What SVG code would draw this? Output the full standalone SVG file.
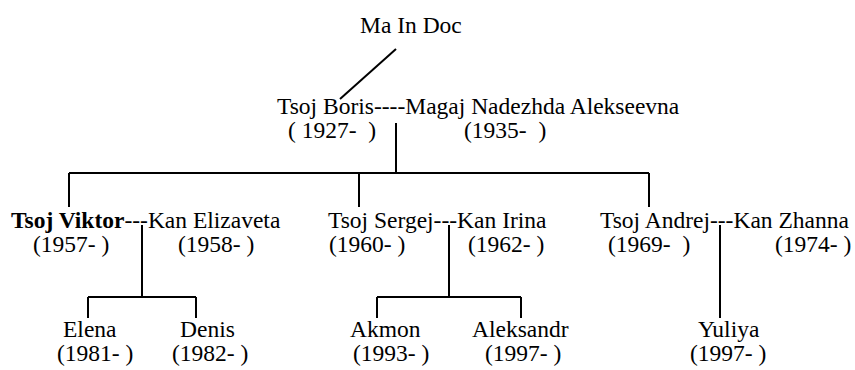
<svg xmlns="http://www.w3.org/2000/svg" width="855" height="370" viewBox="0 0 855 370">
<style>
text{font-family:"Liberation Serif","Times New Roman",serif;font-size:23.5px;fill:#000;white-space:pre}
.b{font-weight:bold}
.c{stroke:#000;stroke-width:2;fill:none}
</style>
<rect width="855" height="370" fill="#fff"/>
<g id="connectors" class="c">
<path d="M396,49 L340,99"/>
<path d="M396,123 V173 M69,173 H649 M69,173 V207 M359,173 V207 M649,173 V207"/>
<path d="M142,225 V297 M88,297 H196 M88,297 V318 M196,297 V318"/>
<path d="M449,225 V297 M377,297 H521 M377,297 V318 M521,297 V318"/>
<path d="M720,225 V318"/>
</g>
<g id="ma-in-doc"><text x="360" y="33">Ma In Doc</text></g>
<g id="boris-nadezhda">
<text x="277" y="114">Tsoj Boris----Magaj Nadezhda Alekseevna</text>
<text x="288" y="138">( 1927-  )</text>
<text x="464" y="138">(1935-  )</text>
</g>
<g id="viktor-elizaveta">
<text x="11" y="228"><tspan class="b">Tsoj Viktor</tspan>---Kan Elizaveta</text>
<text x="33" y="252">(1957- )</text>
<text x="178" y="252">(1958- )</text>
</g>
<g id="sergej-irina">
<text x="328" y="228">Tsoj Sergej---Kan Irina</text>
<text x="329" y="252">(1960- )</text>
<text x="468" y="252">(1962- )</text>
</g>
<g id="andrej-zhanna">
<text x="600" y="228">Tsoj Andrej---Kan Zhanna</text>
<text x="608" y="252">(1969-  )</text>
<text x="775" y="252">(1974- )</text>
</g>
<g id="elena"><text x="63" y="337">Elena</text><text x="57" y="361">(1981- )</text></g>
<g id="denis"><text x="180" y="337">Denis</text><text x="172" y="361">(1982- )</text></g>
<g id="akmon"><text x="350" y="337">Akmon</text><text x="353" y="361">(1993- )</text></g>
<g id="aleksandr"><text x="472" y="337">Aleksandr</text><text x="485" y="361">(1997- )</text></g>
<g id="yuliya"><text x="698" y="337">Yuliya</text><text x="690" y="361">(1997- )</text></g>
</svg>
